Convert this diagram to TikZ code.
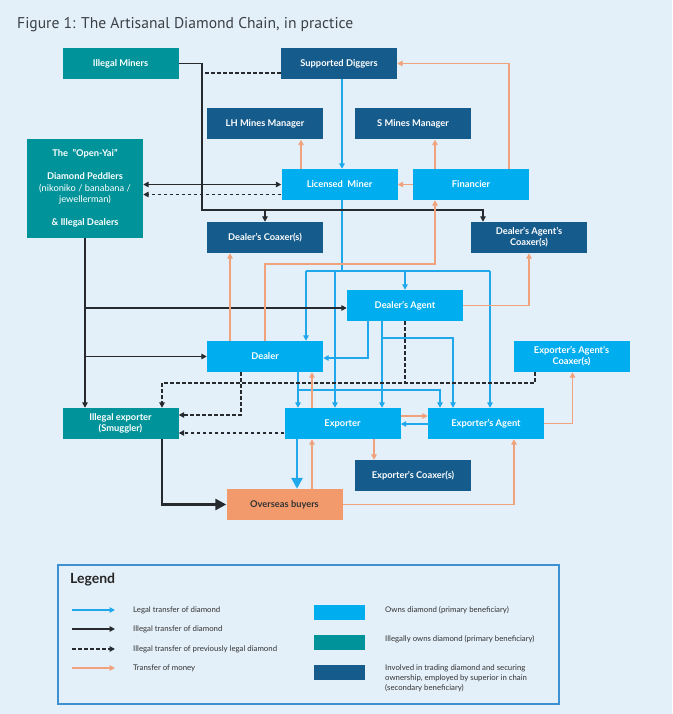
\documentclass[tikz,border=0pt]{standalone}
\usepackage{fontspec}
\setmainfont{Lato}
\newfontfamily\titlefont{PT Sans}
\usetikzlibrary{arrows.meta,calc}
\definecolor{bgblue}{HTML}{E4F0F9}
\definecolor{ownblue}{HTML}{00ADEF}
\definecolor{illteal}{HTML}{00949A}
\definecolor{empblue}{HTML}{155B8C}
\definecolor{buyorange}{HTML}{F29A6B}
\definecolor{legalline}{HTML}{1FA9EC}
\definecolor{illegalline}{HTML}{262A2E}
\definecolor{moneyline}{HTML}{F0A27C}
\definecolor{legendframe}{HTML}{3D90D2}
\definecolor{titlegrey}{HTML}{3B4046}
\tikzset{>={Triangle[length=5.5pt,width=5.5pt]}}

\begin{document}
\begin{tikzpicture}[x=1pt,y=-1pt,
  box/.style={rectangle, minimum width=116pt, minimum height=31pt, inner sep=2pt,
    text=white, align=center, font=\fontsize{9.3}{11}\selectfont\bfseries},
  owns/.style={box, fill=ownblue},
  illowns/.style={box, fill=illteal},
  employed/.style={box, fill=empblue},
  legal/.style={->, draw=legalline, line width=1.5pt},
  illegal/.style={->, draw=illegalline, line width=1.5pt},
  prevlegal/.style={illegal, dash pattern=on 3.5pt off 2.5pt},
  money/.style={->, draw=moneyline, line width=1.5pt},
  heavy/.style={line width=2.8pt, -{Triangle[length=11pt,width=11pt]}},
  legendtext/.style={anchor=west, inner sep=0pt, align=left, text=black!80,
    font=\fontsize{7.8}{10}\selectfont}]
\useasboundingbox (0,0) rectangle (672,714);
\fill[bgblue] (0,0) rectangle (672,714);

\node[anchor=west, inner sep=0pt, text=titlegrey, font=\titlefont\fontsize{15.6}{17}\selectfont]
  (title) at (17,25) {Figure 1: The Artisanal Diamond Chain, in practice};

\node (illegalminers) at (120.5,63.5) [illowns] {Illegal Miners};
\node (diggers) at (339,63.5) [employed] {Supported Diggers};
\node (lhmanager) at (265,124) [employed] {LH Mines Manager};
\node (smanager) at (413,124) [employed] {S Mines Manager};
\node (openyai) at (85,188.5) [illowns, minimum height=99pt, font=\fontsize{9.3}{11.5}\selectfont]
  {\textbf{The \ "Open-Yai"}\\[11.5pt] \textbf{Diamond Peddlers}\\(nikoniko / banabana /\\jewellerman)\\[11.5pt] \textbf{\& Illegal Dealers}};
\node (licminer) at (339.5,184.5) [owns] {Licensed\ \ Miner};
\node (financier) at (471,184.5) [owns] {Financier};
\node (dcoaxer) at (265,237.5) [employed] {Dealer’s Coaxer(s)};
\node (dacoaxer) at (529,237.5) [employed] {Dealer’s Agent’s\\Coaxer(s)};
\node (dagent) at (405,305.5) [owns] {Dealer’s Agent};
\node (dealer) at (265,356.5) [owns] {Dealer};
\node (eacoaxer) at (571.5,356.5) [owns] {Exporter’s Agent’s\\Coaxer(s)};
\node (smuggler) at (120.5,423.5) [illowns] {Illegal exporter\\(Smuggler)};
\node (exporter) at (342.5,423.5) [owns] {Exporter};
\node (eagent) at (486,423.5) [owns] {Exporter’s Agent};
\node (ecoaxer) at (413,475.5) [employed] {Exporter’s Coaxer(s)};
\node (buyers) at (284.5,504.5) [box, fill=buyorange, text=black!80] {Overseas buyers};

\coordinate (busW) at (306,271);
\coordinate (busX) at (335,271);
\coordinate (busE) at (490,271);
\coordinate (agentfork) at (382,338);
\coordinate (dealerfork) at (298,390);
\coordinate (minerbend) at (202,210);
\coordinate (leakline) at (162,383);
\coordinate (dealerpay) at (265,264);

\draw[legal] ([xshift=3pt]diggers.south) -- ([xshift=3pt]diggers.south |- licminer.north);
\draw[legal,-] ([xshift=2.5pt]licminer.south) -- ([xshift=2.5pt]licminer.south |- busW);
\draw[legal,-] (busW) -- (busE);
\draw[legal] (busW) -- (busW |- dealer.north);
\draw[legal] (busX) -- (busX |- exporter.north);
\draw[legal] (dagent.north |- busW) -- (dagent.north);
\draw[legal] (busE) -- (busE |- eagent.north);
\draw[legal] ([xshift=-37pt]dagent.south) |- ([yshift=-1.5pt]dealer.east);
\draw[legal] ([xshift=-23pt]dagent.south) -- ([xshift=-23pt]dagent.south |- exporter.north);
\draw[legal] (agentfork) -| ([xshift=-33pt]eagent.north);
\draw[legal] ([xshift=33pt]dealer.south) -- ([xshift=33pt]dealer.south |- exporter.north);
\draw[legal] (dealerfork) -| ([xshift=-46pt]eagent.north);
\draw[legal] ([yshift=-0.5pt]eagent.west) -- ([yshift=-0.5pt]eagent.west -| exporter.east);
\draw[legal,heavy] ([xshift=-45.5pt]exporter.south) -- ([xshift=-45.5pt]exporter.south |- buyers.north);

\draw[illegal] (illegalminers.east) -| (minerbend) -| ([xshift=-46pt]dacoaxer.north);
\draw[illegal] (dcoaxer.north |- minerbend) -- (dcoaxer.north);
\draw[illegal,<->] (licminer.west) -- (licminer.west -| openyai.east);
\draw[illegal] (openyai.south) -- (openyai.south |- smuggler.north);
\draw[illegal] ([yshift=-2.5pt]dagent.west -| openyai.south) -- ([yshift=-2.5pt]dagent.west);
\draw[illegal] (dealer.west -| openyai.south) -- (dealer.west);
\draw[illegal,heavy] ([xshift=41.5pt]smuggler.south) |- (buyers.west);

\draw[prevlegal,-] ([yshift=-9.5pt]diggers.west) -- ([yshift=-9.5pt]diggers.west -| minerbend);
\draw[prevlegal] ([yshift=-10pt]licminer.west) -- ([yshift=-10pt]licminer.west -| openyai.east);
\draw[prevlegal] ([xshift=-36.5pt]eacoaxer.south) |- (leakline) -- (leakline |- smuggler.north);
\draw[prevlegal,-] (dagent.south) -- (dagent.south |- leakline);
\draw[prevlegal] ([xshift=-24pt]dealer.south) |- ([yshift=8.5pt]smuggler.east);
\draw[prevlegal] ([yshift=-9.5pt]exporter.west) -- ([yshift=-9.5pt]exporter.west -| smuggler.east);

\draw[money] ([xshift=38pt]financier.north) |- (diggers.east);
\draw[money] (financier.west) -- (licminer.east);
\draw[money] ([xshift=-36pt]financier.north) -- ([xshift=-36pt]financier.north |- smanager.south);
\draw[money] ([xshift=-38.5pt]licminer.north) -- ([xshift=-38.5pt]licminer.north |- lhmanager.south);
\draw[money] ([xshift=-35pt]dealer.north) -- ([xshift=-35pt]dealer.north |- dcoaxer.south);
\draw[money] (dealer.north) -- (dealerpay) -| ([xshift=-36pt]financier.south);
\draw[money] (dagent.east) -| (dacoaxer.south);
\draw[money] ([xshift=-30.5pt]exporter.north) -- ([xshift=-30.5pt]exporter.north |- dealer.south);
\draw[money] ([yshift=7.5pt]exporter.east) -- ([yshift=7.5pt]exporter.east -| eagent.west);
\draw[money] (eagent.east) -| ([xshift=1pt]eacoaxer.south);
\draw[money] ([xshift=31.5pt]exporter.south) -- ([xshift=31.5pt]exporter.south |- ecoaxer.north);
\draw[money] ([xshift=27.5pt]buyers.north) -- ([xshift=27.5pt]buyers.north |- exporter.south);
\draw[money] (buyers.east) -| ([xshift=28pt]eagent.south);

% legend
\node (legend) at (308.5,634.5) [draw=legendframe, line width=1.2pt, minimum width=501pt, minimum height=139pt] {};
\node (legendtitle) at (70,580) [anchor=west, inner sep=0pt, text=black!85, font=\fontsize{14}{16}\selectfont\bfseries] {Legend};
\foreach \y/\sty/\txt [count=\i] in {610/legal/Legal transfer of diamond,
    629/illegal/Illegal transfer of diamond,
    649/prevlegal/Illegal transfer of previously legal diamond,
    668/money/Transfer of money}{
  \coordinate (key\i a) at (72,\y);
  \coordinate (key\i b) at (115,\y);
  \draw[\sty] (key\i a) -- (key\i b);
  \node (keytext\i) at (133,\y) [legendtext] {\txt};
}
\node (swatch1) at (339.5,612) [fill=ownblue, minimum width=51pt, minimum height=15pt] {};
\node (swatch2) at (339.5,642) [fill=illteal, minimum width=51pt, minimum height=15pt] {};
\node (swatch3) at (339.5,672) [fill=empblue, minimum width=51pt, minimum height=15pt] {};
\node (swatchtext1) at (385,610) [legendtext] {Owns diamond (primary beneficiary)};
\node (swatchtext2) at (385,639) [legendtext] {Illegally owns diamond (primary beneficiary)};
\node (swatchtext3) at (385,678) [legendtext] {Involved in trading diamond and securing\\ownership, employed by superior in chain\\(secondary beneficiary)};
\end{tikzpicture}
\end{document}
